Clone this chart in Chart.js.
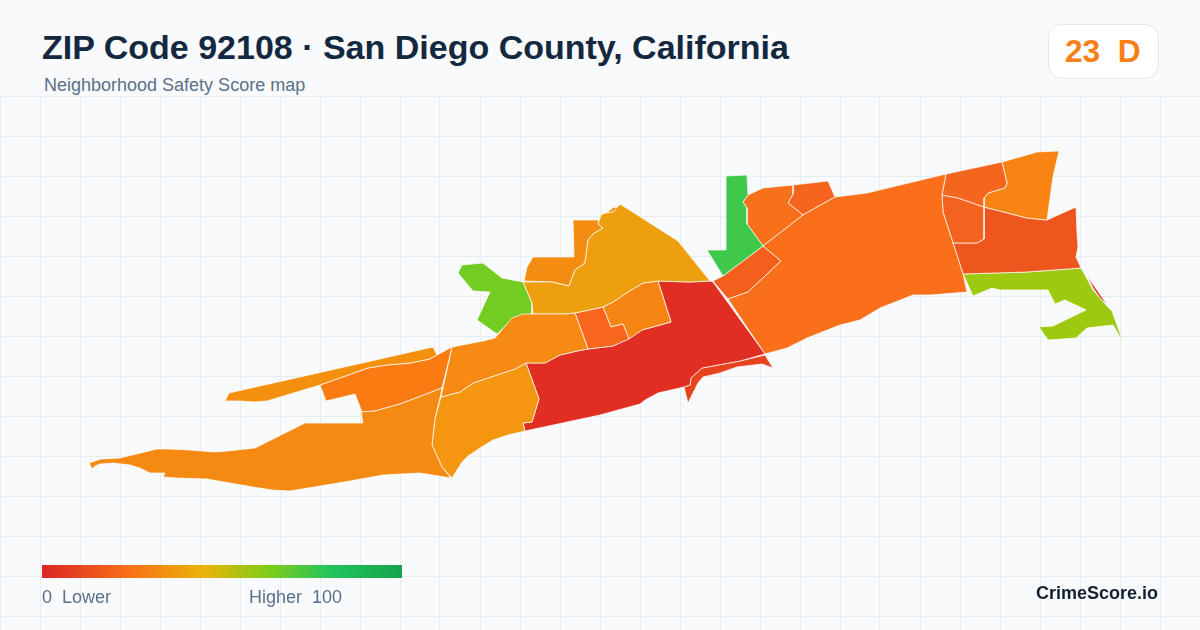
<!DOCTYPE html>
<html><head><meta charset="utf-8">
<script src="https://cdn.jsdelivr.net/npm/chart.js@4"></script>
<style>
html,body{margin:0;padding:0;width:1200px;height:630px;overflow:hidden;background:#f8fafc;font-family:"Liberation Sans",Arial,sans-serif}
.t{position:absolute;white-space:pre;z-index:2}
#title{left:42px;top:27px;font-size:34px;font-weight:700;line-height:40px;color:#14283f}
#sub{left:44px;top:75px;font-size:18px;line-height:20px;color:#5b7089}
#badge{position:absolute;left:1048px;top:24px;width:109px;height:53px;background:#fff;border:1px solid #e2e8f0;border-radius:14px;z-index:2}
#score{left:1065px;top:32px;font-size:31.7px;font-weight:700;line-height:38px;color:#f97f16}
#bar{position:absolute;left:42px;top:565px;width:360px;height:13px;z-index:2;background:linear-gradient(90deg,#dc2626 0%,#f97316 25%,#eab308 45%,#84cc16 62%,#22c55e 80%,#16a34a 100%)}
#lo{left:42px;top:587px;font-size:18px;line-height:20px;color:#5b7089}
#hi{left:249px;top:587px;font-size:18px;line-height:20px;color:#5b7089}
#brand{right:42px;top:582px;font-size:18px;font-weight:700;line-height:22px;color:#14202f}
#wrap{position:absolute;left:0;top:96px;width:1200px;height:534px}
</style></head><body>
<div class="t" id="title">ZIP Code 92108 · San Diego County, California</div>
<div class="t" id="sub">Neighborhood Safety Score map</div>
<div id="badge"></div><div class="t" id="score">23  D</div>
<div id="bar"></div>
<div class="t" id="lo">0  Lower</div><div class="t" id="hi">Higher  100</div>
<div class="t" id="brand">CrimeScore.io</div>
<div id="wrap"><canvas id="c" width="1200" height="534"></canvas></div>
<script>
const gridX=[0,40,80,120,160,200,240,280,320,360,400,440,480,520,560,600,640,680,720,760,800,840,880,920,960,1000,1040,1080,1120,1160,1200];
const gridY=[96,136,176,216,256,296,336,376,416,456,496,536,576,616];

const westBig=[[89,463],[101,459],[120,458],[157,449],[168,449],[190,450],[213,452],[228,451],[255,448],[305,423],[363,423],[361,412],[375,411],[400,404],[442,388],[440,398],[435,418],[432,445],[442,467],[451,478],[420,473],[383,475],[350,481],[290,491],[272,490],[253,487],[230,483],[207,479],[177,478],[163,477],[165,473],[150,473],[140,468],[130,465],[113,463],[100,464],[95,466],[92,469]];
const nwStrip=[[225,401],[229,393],[433,347],[437,355],[430,359],[410,363],[387,365],[368,368],[320,385],[267,401],[255,402],[240,401]];
const innerWest=[[320,385],[368,368],[387,365],[410,363],[430,359],[437,355],[452,347],[442,388],[400,404],[375,411],[362,412],[355,394],[326,401]];
const midStrip=[[452,347],[483,341],[495,338],[512,318],[523,314],[540,314],[565,314],[575,313],[588,349],[577,351],[560,355],[545,363],[526,363],[515,369],[473,383],[460,392],[441,397],[443,388]];
const southMid=[[441,397],[460,392],[473,383],[515,369],[526,363],[539,399],[532,422],[523,423],[525,431],[508,435],[493,440],[480,448],[468,456],[462,462],[452,478],[442,467],[432,445],[435,418]];
const redMain=[[526,363],[545,363],[560,355],[577,351],[588,349],[613,346],[628,339],[642,330],[671,322],[658,281],[690,282],[710,281],[713,282],[765,354],[740,361],[702,368],[691,378],[690,385],[684,387],[658,393],[645,400],[640,404],[600,415],[525,431],[523,423],[532,422],[539,399]];
const lowerStrip=[[765,355],[773,368],[762,364],[737,367],[720,373],[703,377],[698,383],[688,403],[684,387],[690,385],[691,378],[702,368],[740,361]];
const northAmber=[[523,282],[552,282],[569,286],[575,270],[585,263],[588,240],[593,234],[603,228],[598,224],[601,215],[605,213],[613,212],[620,204],[678,241],[710,281],[690,282],[658,281],[643,283],[628,292],[613,302],[603,307],[575,313],[565,314],[533,314],[532,303]];
const northOrange=[[524,281],[527,267],[533,257],[574,257],[573,220],[599,220],[598,224],[603,228],[593,234],[588,240],[585,263],[575,270],[569,286],[552,282]];
const northSliver=[[606,213],[614,207],[617,208],[613,212]];
const limeTract=[[458,273],[462,265],[483,263],[502,278],[523,282],[532,303],[532,314],[515,317],[497,334],[477,320],[490,292],[473,291]];
const smallCentral=[[575,313],[603,307],[611,327],[623,324],[629,339],[613,346],[588,349]];
const eastCentral=[[603,307],[613,302],[628,292],[643,283],[658,281],[671,322],[642,330],[629,339],[623,324],[611,327]];
const greenTract=[[726,176],[747,175],[748,195],[743,202],[747,208],[747,224],[763,246],[723,276],[707,250],[726,250]];
const diagonalTract=[[713,281],[723,276],[763,246],[781,261],[748,292],[728,299]];
const bigEast=[[728,299],[748,292],[781,261],[763,246],[803,215],[817,207],[835,197],[867,193],[946,174],[942,195],[943,212],[953,243],[963,274],[967,292],[930,295],[913,295],[880,308],[860,320],[840,325],[807,338],[787,348],[765,354]];
const northWedge=[[743,202],[748,195],[763,188],[793,185],[793,194],[788,203],[803,215],[763,246],[747,224],[747,208]];
const northCap=[[793,185],[828,181],[835,197],[817,207],[803,215],[788,203],[793,194]];
const farNorthA=[[946,174],[1002,162],[1007,183],[1005,188],[988,193],[984,198],[984,207],[958,198],[942,195]];
const farNorthB=[[1002,162],[1037,152],[1059,151],[1053,177],[1047,220],[1027,218],[984,207],[984,198],[988,193],[1005,188],[1007,183]];
const farMiddle=[[942,195],[958,198],[984,207],[984,239],[977,243],[953,243],[943,212]];
const farEast=[[953,243],[977,243],[984,239],[984,207],[1027,218],[1047,220],[1076,207],[1077,233],[1078,247],[1076,257],[1081,268],[1027,272],[963,274]];
const limeEast=[[963,274],[1027,272],[1081,268],[1085,275],[1093,290],[1107,306],[1112,311],[1123,342],[1113,325],[1087,328],[1076,338],[1048,340],[1039,327],[1053,326],[1086,310],[1065,300],[1055,304],[1048,290],[1020,290],[1000,290],[992,288],[973,296]];
const redSliver=[[1087,276],[1097,290],[1108,306],[1100,298],[1093,288]];

const tractShapes=[westBig,nwStrip,innerWest,midStrip,southMid,northAmber,northOrange,northSliver,limeTract,smallCentral,eastCentral,redMain,lowerStrip,greenTract,bigEast,diagonalTract,northWedge,northCap,farNorthA,farNorthB,farMiddle,farEast,limeEast,redSliver];
const tractColors=['#f58a13','#f5900f','#fb7b13','#f68a12','#f4960f','#ee9f0d','#f58c12','#f58c12','#72cc22','#f8651c','#f68513','#e02e22','#e8431f','#3ec94a','#f96f1a','#f55f1c','#f9701a','#f5651d','#f4651e','#f88414','#f3621f','#ef561d','#9ec911','#d92e20'];

new Chart(document.getElementById('c'),{
  type:'scatter',
  data:{datasets:tractShapes.map((s,i)=>({
    data:s.concat([s[0]]),showLine:true,fill:'shape',
    backgroundColor:tractColors[i],borderColor:'#ffffff',borderWidth:0.7,pointRadius:0,tension:0
  }))},
  options:{
    responsive:false,animation:false,devicePixelRatio:1,
    layout:{padding:0},
    plugins:{legend:{display:false},tooltip:{enabled:false},title:{display:false}},
    scales:{
      x:{type:'linear',min:0,max:1200,afterBuildTicks:a=>{a.ticks=gridX.map(v=>({value:v}))},
         ticks:{display:false},border:{display:false},grid:{color:'#e4edf1',lineWidth:1,drawTicks:false}},
      y:{type:'linear',min:96,max:630,reverse:true,afterBuildTicks:a=>{a.ticks=gridY.map(v=>({value:v}))},
         ticks:{display:false},border:{display:false},grid:{color:'#e4edf1',lineWidth:1,drawTicks:false}}
    }
  }
});
</script></body></html>
